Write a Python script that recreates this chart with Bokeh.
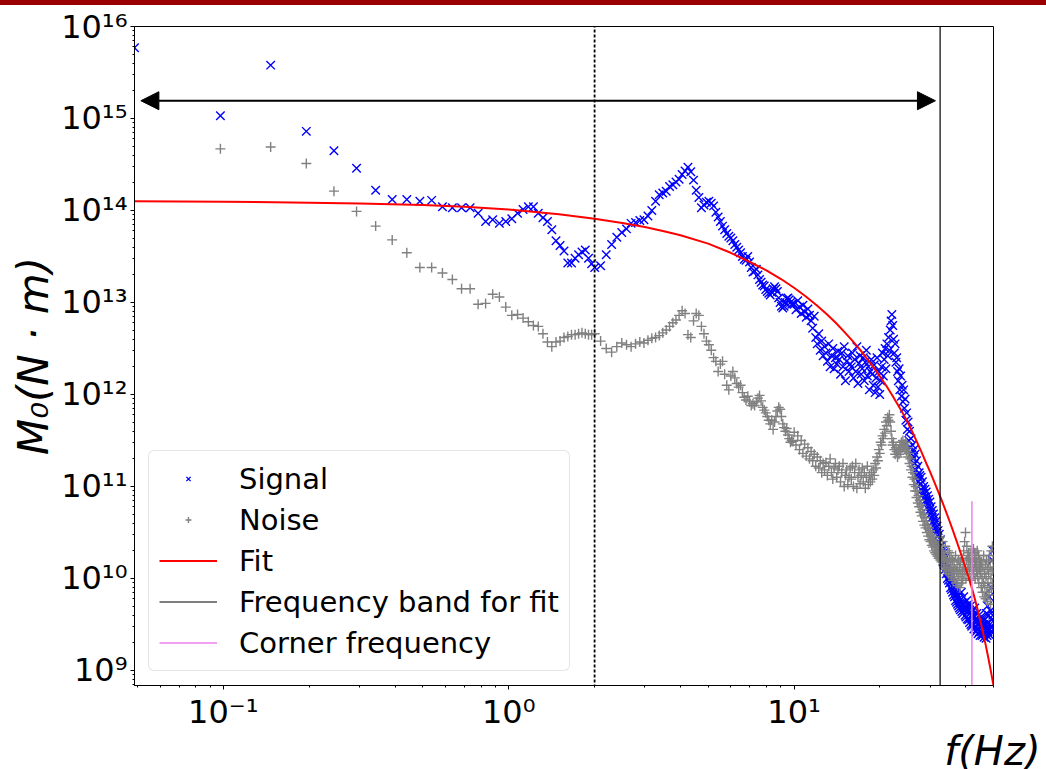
import numpy as np
from bokeh.plotting import figure
from bokeh.models import (FixedTicker, Arrow, NormalHead, Legend, LegendItem,
                          Div, Title)
from bokeh.layouts import column
from bokeh.embed import file_html
from bokeh.resources import INLINE

# ---------------- data ----------------
df = 50.0 / 1024          # frequency step of the spectrum (Hz)

# log10 of M0 (N.m); low part: every bin k = 1..40
signal_low = [15.77, 15.03, 15.58, 14.86, 14.65, 14.46, 14.22, 14.12, 14.12, 14.10,
              14.11, 14.04, 14.03, 14.03, 14.03, 13.97, 13.88, 13.90, 13.86, 13.88,
              13.91, 13.97, 14.01, 14.04, 14.04, 13.97, 13.92, 13.88, 13.79, 13.67,
              13.62, 13.56, 13.43, 13.43, 13.48, 13.52, 13.55, 13.57, 13.48, 13.42]
noise_low = [None, 14.67, 14.69, 14.51, 14.21, 13.99, 13.83, 13.68, 13.54, 13.38,
             13.38, 13.32, 13.25, 13.15, 13.15, 12.98, 12.99, 13.09, 13.06, 12.95,
             12.86, 12.87, 12.83, 12.79, 12.75, 12.74, 12.66, 12.57, 12.52, 12.57,
             12.58, 12.62, 12.63, 12.65, 12.65, 12.66, 12.67, 12.66, 12.65, 12.65]

# mid part: bins k = 41, 43, ..., 203  (2 - 10 Hz)
signal_mid = [13.38, 13.40, 13.52, 13.63, 13.71, 13.76, 13.80, 13.86, 13.87, 13.89,
              13.90, 13.94, 14.00, 14.10, 14.17, 14.19, 14.21, 14.26, 14.28, 14.31,
              14.34, 14.39, 14.43, 14.47, 14.42, 14.33, 14.22, 14.14, 14.03, 14.06,
              14.09, 14.10, 14.08, 14.05, 13.98, 13.93, 13.88, 13.83, 13.79, 13.75,
              13.72, 13.70, 13.67, 13.63, 13.60, 13.57, 13.54, 13.50, 13.47, 13.46,
              13.50, 13.44, 13.38, 13.33, 13.34, 13.36, 13.30, 13.25, 13.22, 13.19,
              13.18, 13.14, 13.12, 13.10, 13.08, 13.11, 13.15, 13.17, 13.15, 13.12,
              13.05, 13.00, 12.96, 12.94, 12.96, 13.00, 13.04, 13.05, 13.03, 13.00,
              12.98, 12.99]
noise_mid = [12.66, 12.58, 12.50, 12.46, 12.52, 12.56, 12.54, 12.52, 12.55, 12.57,
             12.56, 12.59, 12.61, 12.62, 12.64, 12.67, 12.70, 12.74, 12.78, 12.81,
             12.86, 12.91, 12.88, 12.65, 12.62, 12.80, 12.88, 12.86, 12.74, 12.66,
             12.58, 12.54, 12.48, 12.40, 12.36, 12.25, 12.33, 12.36, 12.22, 12.10,
             12.05, 12.20, 12.25, 12.18, 12.12, 12.08, 12.10, 12.02, 11.97, 11.94,
             11.98, 11.92, 11.88, 11.90, 11.88, 11.92, 11.96, 11.99, 11.93, 11.86,
             11.83, 11.80, 11.76, 11.72, 11.68, 11.72, 11.62, 11.70, 11.76, 11.82,
             11.86, 11.84, 11.76, 11.68, 11.64, 11.60, 11.63, 11.56, 11.52, 11.48,
             11.50, 11.49]

# high part: bins k = 205, 208, ..., 1024  (10 - 50 Hz)
signal_high = [12.98, 12.92, 13.02, 12.95, 12.88, 12.97, 12.90, 12.84, 12.93, 12.86,
               12.80, 12.72, 12.85, 12.62, 12.55, 12.66, 12.48, 12.58, 12.42, 12.52,
               12.45, 12.36, 12.55, 12.30, 12.42, 12.50, 12.28, 12.40, 12.33, 12.47,
               12.38, 12.22, 12.45, 12.30, 12.52, 12.15, 12.36, 12.42, 12.25, 12.33,
               12.30, 12.45, 12.18, 12.38, 12.25, 12.52, 12.12, 12.34, 12.42, 12.22,
               12.28, 12.40, 12.15, 12.35, 12.48, 12.20, 12.30, 12.05, 12.25, 12.38,
               12.22, 12.10, 12.32, 12.02, 12.18, 12.40, 12.08, 12.25, 12.00, 12.15,
               12.30, 12.45, 12.20, 12.38, 12.50, 12.28, 12.55, 12.42, 12.62, 12.48,
               12.70, 12.80, 12.87, 12.75, 12.60, 12.45, 12.55, 12.35, 12.40, 12.25,
               12.15, 12.28, 12.05, 12.20, 11.98, 12.10, 11.92, 12.05, 11.85, 11.95,
               11.72, 11.80, 11.62, 11.70, 11.50, 11.60, 11.42, 11.52, 11.35, 11.45,
               11.30, 11.40, 11.25, 11.35, 11.18, 11.28, 11.12, 11.22, 11.05, 11.15,
               11.12, 11.02, 11.10, 10.96, 11.05, 10.92, 11.00, 10.88, 10.97, 10.85,
               10.94, 10.82, 10.90, 10.78, 10.86, 10.74, 10.83, 10.70, 10.78, 10.66,
               10.74, 10.62, 10.70, 10.58, 10.66, 10.54, 10.62, 10.50, 10.57, 10.46,
               10.52, 10.40, 10.48, 10.34, 10.42, 10.28, 10.36, 10.24, 10.30, 10.18,
               10.28, 10.15, 10.22, 10.10, 10.18, 10.05, 10.12, 10.00, 10.08, 9.98,
               10.05, 9.95, 10.02, 9.90, 9.98, 9.88, 9.95, 9.85, 9.92, 9.82,
               9.90, 9.80, 9.86, 9.76, 9.84, 9.74, 9.82, 9.72, 9.80, 9.70,
               9.78, 9.68, 9.76, 9.66, 9.74, 9.85, 9.64, 9.72, 9.62, 9.70,
               9.80, 9.66, 9.74, 9.60, 9.70, 9.58, 9.68, 9.76, 9.56, 9.65,
               9.72, 9.55, 9.66, 9.52, 9.62, 9.70, 9.50, 9.60, 9.48, 9.58,
               9.65, 9.50, 9.60, 9.45, 9.58, 9.68, 9.48, 9.55, 9.42, 9.52,
               9.62, 9.45, 9.55, 9.40, 9.50, 9.60, 9.42, 9.52, 9.38, 9.48,
               9.58, 9.42, 9.52, 9.38, 9.48, 9.56, 9.40, 9.50, 9.36, 9.46,
               9.55, 9.40, 9.50, 9.35, 9.62, 9.45, 9.38, 9.70, 9.42, 9.52,
               9.60, 9.45, 9.80, 9.50, 9.38, 9.65, 9.48, 9.90, 9.55, 9.42,
               10.20, 9.60, 10.30, 9.45]
noise_high = [11.59, 11.45, 11.55, 11.40, 11.50, 11.36, 11.46, 11.33, 11.42, 11.30,
              11.38, 11.28, 11.35, 11.22, 11.32, 11.20, 11.28, 11.15, 11.25, 11.18,
              11.26, 11.12, 11.22, 11.30, 11.15, 11.08, 11.20, 11.25, 11.10, 11.18,
              11.22, 11.05, 11.15, 11.25, 11.00, 11.12, 11.18, 11.02, 11.10, 11.20,
              11.08, 11.22, 11.00, 11.15, 11.25, 10.98, 11.10, 11.18, 11.03, 11.12,
              11.20, 11.05, 11.15, 10.98, 11.10, 11.22, 11.02, 11.12, 11.05, 11.15,
              11.08, 11.18, 11.12, 11.25, 11.20, 11.32, 11.28, 11.40, 11.36, 11.48,
              11.45, 11.55, 11.52, 11.62, 11.58, 11.70, 11.66, 11.75, 11.72, 11.78,
              11.70, 11.60, 11.52, 11.45, 11.48, 11.40, 11.35, 11.42, 11.38, 11.32,
              11.40, 11.35, 11.45, 11.38, 11.48, 11.42, 11.50, 11.44, 11.46, 11.40,
              11.48, 11.38, 11.42, 11.32, 11.36, 11.25, 11.30, 11.18, 11.22, 11.10,
              11.15, 11.02, 11.08, 10.95, 11.00, 10.88, 10.95, 10.82, 10.90, 10.78,
              10.85, 10.72, 10.80, 10.68, 10.75, 10.62, 10.70, 10.58, 10.66, 10.55,
              10.62, 10.50, 10.58, 10.46, 10.55, 10.42, 10.52, 10.40, 10.48, 10.36,
              10.46, 10.34, 10.42, 10.30, 10.40, 10.28, 10.38, 10.26, 10.35, 10.24,
              10.34, 10.22, 10.32, 10.45, 10.20, 10.30, 10.18, 10.28, 10.40, 10.15,
              10.25, 10.12, 10.22, 10.35, 10.10, 10.20, 10.08, 10.18, 10.30, 10.05,
              10.15, 10.28, 10.05, 10.12, 10.22, 10.02, 10.10, 10.20, 9.98, 10.08,
              10.18, 10.00, 10.10, 10.25, 9.95, 10.08, 10.15, 9.92, 10.05, 10.20,
              10.02, 10.12, 9.90, 10.18, 10.05, 9.95, 10.22, 10.08, 9.98, 10.15,
              10.30, 10.05, 10.40, 10.10, 10.50, 10.00, 10.20, 10.35, 10.08, 10.25,
              10.15, 10.28, 10.05, 10.22, 10.12, 9.98, 10.18, 10.30, 10.08, 10.20,
              10.25, 10.10, 10.32, 10.05, 10.18, 10.28, 10.00, 10.15, 10.22, 10.08,
              10.18, 10.30, 10.02, 10.12, 10.25, 9.95, 10.10, 10.20, 10.05, 10.15,
              10.08, 9.90, 10.18, 10.00, 9.85, 10.12, 9.95, 10.25, 9.80, 10.05,
              9.92, 10.15, 9.78, 10.02, 10.20, 9.85, 10.10, 9.75, 9.95, 10.18,
              10.05, 9.82, 10.25, 9.90, 10.12, 9.72, 10.00, 10.30, 9.88, 10.08,
              10.35, 9.95, 10.20, 10.10]

# fitted source spectrum
fit_freq = [0.0488, 0.07, 0.1, 0.15, 0.2, 0.3, 0.5, 0.7, 1.0, 1.5, 2.0, 2.5, 3.0, 3.5,
            4.0, 5.0, 6.0, 7.0, 8.0, 9.0, 10, 11, 12, 13, 14, 15, 16, 17, 18, 19,
            20, 21, 22, 23, 24, 25, 26, 27, 28, 29, 30, 31, 32, 33, 34, 35, 36, 37,
            38, 39, 40, 41, 42, 43, 44, 45, 46, 47, 48, 49, 50]
fit_log = [14.100, 14.098, 14.095, 14.090, 14.085, 14.075, 14.060, 14.040, 14.010, 13.960,
           13.910, 13.865, 13.820, 13.775, 13.730, 13.640, 13.540, 13.440, 13.350, 13.255,
           13.160, 13.065, 12.970, 12.875, 12.780, 12.680, 12.585, 12.490, 12.390, 12.295,
           12.195, 12.100, 12.000, 11.900, 11.800, 11.700, 11.590, 11.480, 11.370, 11.260,
           11.155, 11.050, 10.945, 10.840, 10.735, 10.630, 10.525, 10.420, 10.315, 10.210,
           10.105, 10.000, 9.895, 9.780, 9.660, 9.535, 9.405, 9.270, 9.130, 8.985, 8.835]

band_edge = 32.5          # Hz, upper edge of the frequency band for fit
corner_freq = 42.0        # Hz
corner_top = 6.9e10       # top of the corner-frequency marker
ref_freq = 2.0            # dotted reference line
arrow_freq = [0.0514, 31.3]
arrow_m0 = 1.56e15

x_lim = (df, 50.0)
y_lim = (6.86e8, 1e16)

# ---------------- build ----------------
def freqs(start, step, n):
    return (start + step * np.arange(n)) * df

f_sig = np.concatenate([freqs(1, 1, len(signal_low)), freqs(41, 2, len(signal_mid)),
                        freqs(205, 3, len(signal_high))])
v_sig = 10 ** np.array(signal_low + signal_mid + signal_high, dtype=float)
f_noi = np.concatenate([freqs(1, 1, len(noise_low)), freqs(41, 2, len(noise_mid)),
                        freqs(205, 3, len(noise_high))])
v_noi = 10 ** np.array(noise_low + noise_mid + noise_high, dtype=float)
v_fit = 10 ** np.array(fit_log)

FONT = "DejaVu Sans"

p = figure(width=1046, height=764, x_axis_type="log", y_axis_type="log",
           x_range=x_lim, y_range=y_lim, output_backend="svg", toolbar_location=None,
           min_border_left=134, min_border_right=53, min_border_top=21,
           min_border_bottom=0)
p.title.visible = False
p.xgrid.visible = False
p.ygrid.visible = False
p.outline_line_color = "black"
p.outline_line_alpha = 1.0
p.outline_line_width = 1
p.background_fill_color = "white"
p.border_fill_color = "white"

p.xaxis.ticker = FixedTicker(ticks=[0.1, 1.0, 10.0],
                             minor_ticks=[m * 10.0 ** e for e in (-2, -1, 0, 1) for m in range(2, 10)])
p.xaxis.major_label_overrides = {0.1: "10\u207b\u00b9", 1.0: "10\u2070", 10.0: "10\u00b9"}
ydec = list(range(9, 17))
p.yaxis.ticker = FixedTicker(ticks=[10.0 ** e for e in ydec],
                             minor_ticks=[m * 10.0 ** e for e in range(8, 16) for m in range(2, 10)])
sup = str.maketrans("0123456789-", "\u2070\u00b9\u00b2\u00b3\u2074\u2075\u2076\u2077\u2078\u2079\u207b")
p.yaxis.major_label_overrides = {10.0 ** e: "10" + str(e).translate(sup) for e in ydec}

for ax in (p.xaxis, p.yaxis):
    ax.axis_line_color = "black"
    ax.major_tick_line_color = "black"
    ax.minor_tick_line_color = "black"
    ax.major_tick_out = 4
    ax.major_tick_in = 0
    ax.minor_tick_out = 2
    ax.minor_tick_in = 0
    ax.major_label_text_font = FONT
    ax.major_label_text_font_size = "32px"
    ax.major_label_text_color = "black"
    ax.major_label_standoff = 3

p.yaxis.axis_label = "M\u2080(N \u00b7 m)"
p.yaxis.axis_label_text_font = FONT
p.yaxis.axis_label_text_font_size = "42px"
p.yaxis.axis_label_text_font_style = "italic"
p.yaxis.axis_label_text_color = "black"
p.yaxis.axis_label_standoff = 0

sig = p.scatter(f_sig, v_sig, marker="x", size=12, line_color="blue", line_width=1.4)
noi = p.scatter(f_noi, v_noi, marker="cross", size=10, line_color="gray", line_width=1.4)
fit = p.line(fit_freq, v_fit, line_color="red", line_width=2)
dot = p.segment(x0=[ref_freq], y0=[y_lim[0] / 10], x1=[ref_freq], y1=[y_lim[1] * 10],
                line_color="black", line_width=1.8, line_dash="3 2")
band = p.segment(x0=[band_edge], y0=[y_lim[0] / 10], x1=[band_edge], y1=[y_lim[1] * 10],
                 line_color="black", line_width=1.2)
corner = p.segment(x0=[corner_freq], y0=[y_lim[0] / 10], x1=[corner_freq], y1=[corner_top],
                   line_color="violet", line_width=1.5)

p.add_layout(Arrow(start=NormalHead(size=18, fill_color="black", line_color="black"),
                   end=NormalHead(size=18, fill_color="black", line_color="black"),
                   x_start=arrow_freq[0], y_start=arrow_m0,
                   x_end=arrow_freq[1], y_end=arrow_m0,
                   line_color="black", line_width=2))

legend = Legend(items=[LegendItem(label="Signal", renderers=[sig]),
                       LegendItem(label="Noise", renderers=[noi]),
                       LegendItem(label="Fit", renderers=[fit]),
                       LegendItem(label="Frequency band for fit", renderers=[band]),
                       LegendItem(label="Corner frequency", renderers=[corner])],
                location="bottom_left", margin=14, padding=10, spacing=6,
                glyph_width=58, glyph_height=15, label_height=35, label_standoff=22,
                label_text_font=FONT, label_text_font_size="29px",
                label_text_color="black", border_line_color="#cccccc",
                border_line_width=1, background_fill_alpha=0.8)
try:
    legend.border_radius = 6
except Exception:
    pass
p.add_layout(legend)

xlabel = Title(text="f(Hz)", align="right", vertical_align="top", offset=-47,
               standoff=0, text_font=FONT, text_font_size="40px",
               text_font_style="italic", text_color="black")
try:
    xlabel.standoff = -12
except Exception:
    xlabel.standoff = 0
p.add_layout(xlabel, "below")

bar = Div(text="", width=1046, height=5, margin=0,
          styles={"background-color": "#9b0000"})
layout = column(bar, p, spacing=0)

open("out.html", "w").write(file_html(layout, INLINE))
